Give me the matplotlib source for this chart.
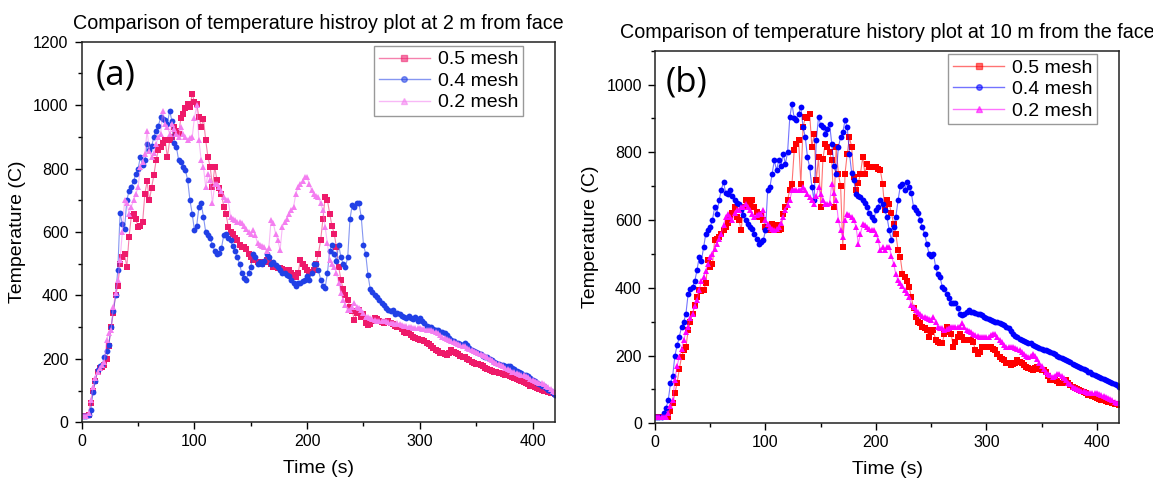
import numpy as np
import matplotlib
matplotlib.use("Agg")
import matplotlib.pyplot as plt
from matplotlib.ticker import MultipleLocator

plt.rcParams['font.family'] = ['Liberation Sans', 'DejaVu Sans']

# time axis, 2 s sampling
t = np.arange(0, 421, 2)

# ---- panel (a): 2 m from face ----
a_05 = [20, 20, 20, 22, 60, 100, 130, 160, 170, 175,
        180, 200, 240, 300, 345, 400, 430, 500, 520, 530,
        490, 585, 650, 658, 640, 616, 620, 630, 720, 760,
        700, 740, 780, 826, 860, 868, 880, 889, 836, 889,
        900, 930, 920, 910, 960, 973, 990, 1004, 994, 1036,
        1010, 1004, 962, 931, 957, 889, 836, 805, 742, 805,
        763, 740, 721, 680, 658, 616, 600, 595, 580, 574,
        560, 553, 553, 545, 530, 520, 511, 511, 505, 500,
        500, 505, 511, 505, 500, 490, 490, 488, 485, 482,
        480, 475, 480, 470, 465, 459, 470, 511, 500, 490,
        480, 470, 475, 480, 500, 532, 574, 640, 710, 700,
        658, 620, 595, 553, 490, 449, 420, 400, 385, 365,
        350, 323, 344, 354, 333, 340, 312, 307, 310, 320,
        330, 325, 320, 315, 312, 315, 320, 312, 310, 305,
        302, 300, 295, 285, 281, 280, 275, 270, 265, 262,
        260, 258, 255, 250, 248, 240, 235, 228, 225, 220,
        218, 215, 213, 220, 228, 222, 218, 215, 210, 207,
        205, 200, 195, 190, 187, 185, 183, 180, 178, 172,
        168, 165, 163, 160, 158, 156, 155, 152, 150, 148,
        145, 142, 140, 136, 134, 130, 126, 124, 120, 116,
        113, 110, 108, 105, 103, 100, 98, 95, 93, 92,
        88]

a_04 = [20, 20, 20, 22, 40, 95, 130, 165, 178, 180,
        207, 225, 245, 300, 350, 400, 480, 660, 625, 610,
        700, 730, 742, 760, 784, 800, 836, 810, 826, 878,
        860, 870, 900, 920, 935, 962, 955, 952, 941, 983,
        950, 880, 868, 826, 820, 805, 795, 763, 700, 658,
        605, 620, 680, 690, 648, 600, 590, 580, 560, 540,
        530, 535, 550, 590, 595, 580, 575, 555, 540, 522,
        500, 470, 455, 450, 470, 490, 532, 520, 500, 505,
        500, 510, 530, 520, 500, 505, 495, 490, 480, 470,
        470, 465, 460, 450, 438, 430, 440, 438, 445, 449,
        460, 449, 470, 500, 500, 480, 450, 430, 425, 470,
        540, 560, 530, 510, 560, 520, 500, 490, 520, 640,
        685, 680, 690, 690, 648, 560, 530, 464, 420, 410,
        400, 395, 385, 375, 370, 360, 355, 350, 354, 340,
        345, 340, 335, 333, 330, 335, 330, 325, 333, 320,
        330, 320, 312, 305, 300, 300, 295, 290, 290, 286,
        286, 280, 275, 265, 260, 255, 250, 250, 248, 245,
        250, 245, 235, 228, 225, 222, 218, 215, 210, 207,
        207, 200, 195, 190, 187, 185, 182, 180, 178, 176,
        176, 172, 168, 162, 160, 155, 150, 148, 145, 140,
        134, 130, 125, 120, 116, 113, 108, 103, 98, 92,
        87]

a_02 = [20, 20, 20, 30, 70, 110, 140, 160, 170, 180,
        190, 260, 281, 290, 365, 407, 449, 511, 600, 700,
        690, 658, 680, 700, 720, 742, 805, 820, 847, 920,
        857, 836, 850, 878, 900, 910, 983, 941, 930, 910,
        941, 925, 910, 900, 930, 910, 899, 889, 895, 899,
        960, 1000, 889, 826, 805, 742, 784, 763, 690, 752,
        752, 742, 730, 710, 700, 700, 648, 640, 637, 630,
        630, 627, 620, 610, 600, 595, 606, 590, 564, 560,
        555, 553, 540, 550, 637, 627, 595, 574, 543, 616,
        630, 640, 658, 669, 680, 721, 742, 752, 760, 773,
        773, 750, 732, 721, 715, 710, 690, 669, 616, 564,
        511, 500, 490, 470, 440, 407, 385, 370, 354, 354,
        365, 375, 365, 360, 354, 345, 333, 333, 330, 325,
        323, 320, 320, 318, 320, 318, 315, 312, 312, 310,
        312, 310, 307, 305, 303, 300, 300, 298, 297, 297,
        297, 295, 293, 291, 291, 290, 288, 285, 280, 275,
        270, 266, 263, 260, 256, 252, 250, 246, 243, 239,
        239, 235, 232, 228, 225, 222, 218, 215, 212, 209,
        207, 200, 195, 190, 187, 184, 181, 178, 172, 168,
        165, 160, 158, 155, 152, 150, 148, 145, 142, 138,
        134, 131, 128, 125, 124, 120, 115, 110, 104, 100,
        97]

# ---- panel (b): 10 m from the face ----
b_05 = [20, 20, 20, 20, 20, 20, 20, 35, 60, 88,
        120, 160, 196, 215, 226, 275, 300, 324, 350, 373,
        393, 390, 393, 413, 481, 462, 471, 540, 545, 550,
        560, 570, 580, 590, 609, 620, 639, 609, 600, 570,
        640, 658, 639, 645, 658, 639, 625, 609, 619, 600,
        580, 575, 570, 589, 580, 585, 570, 575, 619, 640,
        658, 690, 707, 806, 825, 835, 707, 874, 904, 900,
        914, 815, 855, 717, 786, 639, 780, 825, 815, 800,
        776, 639, 815, 737, 700, 520, 737, 796, 845, 815,
        727, 688, 710, 737, 786, 737, 766, 756, 756, 756,
        756, 750, 747, 707, 629, 658, 648, 620, 589, 560,
        511, 491, 442, 432, 420, 403, 373, 340, 314, 300,
        295, 285, 280, 275, 255, 270, 275, 246, 240, 236,
        236, 265, 285, 270, 265, 226, 240, 255, 265, 255,
        246, 246, 246, 246, 240, 216, 206, 210, 226, 226,
        226, 226, 226, 220, 216, 205, 196, 190, 187, 177,
        177, 172, 175, 177, 187, 180, 177, 172, 167, 162,
        160, 157, 162, 167, 160, 157, 157, 150, 140, 128,
        128, 128, 125, 120, 118, 122, 128, 120, 112, 108,
        105, 100, 98, 95, 92, 88, 85, 83, 80, 79,
        76, 72, 69, 68, 66, 64, 62, 60, 58, 56,
        54]

b_04 = [20, 20, 20, 20, 30, 45, 69, 118, 140, 200,
        230, 255, 285, 300, 324, 383, 395, 403, 420, 452,
        491, 480, 521, 560, 570, 580, 600, 639, 619, 658,
        690, 712, 680, 678, 688, 670, 658, 650, 648, 629,
        615, 600, 589, 580, 575, 560, 545, 530, 535, 540,
        570, 688, 697, 737, 776, 747, 776, 760, 796, 766,
        800, 904, 943, 900, 894, 914, 933, 874, 845, 786,
        756, 697, 658, 835, 904, 880, 874, 855, 870, 884,
        825, 760, 737, 815, 845, 860, 894, 874, 796, 740,
        717, 678, 670, 668, 658, 650, 639, 620, 609, 600,
        629, 640, 658, 648, 630, 609, 570, 540, 580, 609,
        658, 700, 707, 688, 712, 697, 680, 639, 629, 620,
        599, 580, 560, 530, 501, 495, 501, 462, 440, 432,
        403, 395, 383, 370, 354, 354, 354, 340, 324, 320,
        324, 330, 334, 328, 330, 325, 322, 324, 320, 314,
        312, 308, 305, 302, 300, 298, 295, 292, 290, 285,
        280, 272, 265, 258, 255, 250, 246, 243, 240, 238,
        236, 232, 228, 226, 223, 220, 216, 215, 213, 211,
        208, 204, 200, 196, 193, 190, 187, 183, 180, 176,
        172, 168, 165, 162, 160, 156, 152, 150, 147, 142,
        140, 137, 134, 132, 128, 125, 123, 119, 115, 112,
        108]

b_02 = [20, 20, 20, 20, 20, 20, 30, 50, 69, 128,
        170, 196, 220, 246, 270, 285, 310, 324, 345, 363,
        393, 420, 432, 450, 471, 490, 501, 515, 530, 545,
        560, 585, 609, 619, 610, 599, 620, 629, 629, 639,
        639, 648, 639, 630, 619, 609, 615, 619, 619, 629,
        600, 589, 580, 575, 570, 575, 580, 590, 609, 629,
        645, 658, 688, 688, 688, 690, 688, 697, 690, 678,
        668, 660, 648, 670, 697, 678, 660, 648, 648, 650,
        707, 680, 658, 599, 570, 550, 599, 619, 615, 609,
        599, 580, 530, 560, 589, 585, 580, 575, 570, 570,
        560, 540, 511, 521, 511, 521, 521, 495, 471, 440,
        422, 413, 405, 393, 385, 373, 350, 344, 334, 328,
        324, 318, 314, 310, 308, 305, 314, 300, 285, 282,
        280, 275, 278, 282, 285, 285, 285, 285, 285, 295,
        285, 275, 272, 270, 265, 262, 258, 255, 255, 255,
        255, 255, 260, 265, 265, 255, 246, 240, 232, 226,
        226, 226, 226, 222, 220, 216, 210, 205, 200, 196,
        200, 206, 200, 190, 177, 170, 160, 150, 147, 142,
        138, 140, 145, 147, 140, 135, 128, 120, 115, 108,
        105, 100, 98, 96, 94, 92, 90, 88, 88, 88,
        88, 86, 84, 82, 79, 76, 72, 68, 64, 61,
        59]

labels = ['0.5 mesh', '0.4 mesh', '0.2 mesh']
markers = ['s', 'o', '^']
colors_a = ['#ee1a6a', '#2140e6', '#f47ef0']
colors_b = ['#ff0000', '#0000ff', '#ff00ff']

fig = plt.figure(figsize=(11.53, 4.84), dpi=100)
ax1 = fig.add_axes([0.0709, 0.1275, 0.4105, 0.7863])
ax2 = fig.add_axes([0.5681, 0.1254, 0.4024, 0.7699])


def draw(ax, series, colors):
    for y, lab, m, c in zip(series, labels, markers, colors):
        ax.plot(t, y, color=c, lw=0.8, alpha=0.55)
        ax.plot(t, y, ls='none', marker=m, ms=4.2, color=c, mec=c, mew=0)
        ax.plot([], [], color=c, lw=1.0, alpha=0.55, marker=m, ms=4,
                mfc=c, mec=c, label=lab)


draw(ax1, [a_05, a_04, a_02], colors_a)
draw(ax2, [b_05, b_04, b_02], colors_b)

for ax in (ax1, ax2):
    ax.set_xlim(0, 420)
    ax.xaxis.set_major_locator(MultipleLocator(100))
    ax.xaxis.set_minor_locator(MultipleLocator(50))
    ax.yaxis.set_minor_locator(MultipleLocator(100))
    ax.tick_params(which='major', direction='out', length=5, width=1,
                   labelsize=11.5, top=False, right=False)
    ax.tick_params(which='minor', direction='out', length=3, width=1,
                   top=False, right=False)
    ax.tick_params(axis='x', pad=3.5)
    ax.tick_params(axis='y', pad=4.5)
    for s in ax.spines.values():
        s.set_linewidth(1.1)
        s.set_color('#222222')
    ax.set_xlabel('Time (s)', fontsize=14, labelpad=8)
    ax.set_ylabel('Temperature (C)', fontsize=14, labelpad=5)

ax1.set_ylim(0, 1200)
ax1.yaxis.set_major_locator(MultipleLocator(200))
ax2.set_ylim(0, 1100)
ax2.yaxis.set_major_locator(MultipleLocator(200))

ax1.set_title('Comparison of temperature histroy plot at 2 m from face',
              fontsize=14.2, pad=9)
ax2.set_title('Comparison of temperature history plot at 10 m from the face',
              fontsize=14.2, pad=9)

ax1.text(0.03, 0.955, '(a)', transform=ax1.transAxes, ha='left', va='top',
         fontsize=25, family='Open Sans')
ax2.text(0.022, 0.96, '(b)', transform=ax2.transAxes, ha='left', va='top',
         fontsize=25, family='Open Sans')

for ax, anchor in ((ax1, (0.932, 0.989)), (ax2, (0.9526, 0.991))):
    leg = ax.legend(loc='upper right', bbox_to_anchor=anchor, borderaxespad=0,
                    fontsize=14, frameon=True, fancybox=False, framealpha=1,
                    edgecolor='#999999', handlelength=2.6, labelspacing=0.2,
                    borderpad=0.25, handletextpad=0.4)
    leg.get_frame().set_linewidth(1.0)

fig.savefig('out.png', dpi=100)
